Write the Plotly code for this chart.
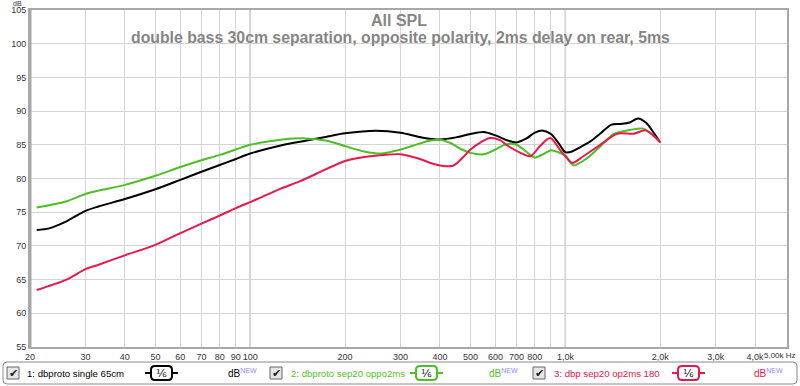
import plotly.graph_objects as go

# ---------------- data ----------------
series_names = ["1: dbproto single 65cm", "2: dbproto sep20 oppo2ms", "3: dbp sep20 op2ms 180"]
series_colors = ["#000000", "#4cbf27", "#e8194a"]
label_colors = ["#000000", "#55c030", "#e0184a"]

freq_black = [21, 23, 26, 30, 33, 40, 50, 60, 70, 80, 90, 100, 125, 150, 175, 200, 250, 300, 350, 400,
              450, 500, 550, 600, 650, 700, 750, 800, 850, 900, 950, 1000, 1050, 1100, 1200, 1300,
              1400, 1500, 1600, 1700, 1800, 1900, 2000]
spl_black = [72.35, 72.6, 73.6, 75.2, 75.85, 76.95, 78.4, 79.8, 81.0, 82.0, 82.9, 83.7, 84.9, 85.6, 86.2, 86.7,
             87.1, 86.8, 86.1, 85.8, 86.1, 86.6, 86.9, 86.4, 85.7, 85.35, 85.9, 86.8, 87.1, 86.6, 85.3,
             83.9, 84.0, 84.5, 85.5, 86.8, 88.0, 88.1, 88.3, 88.9, 88.3, 86.9, 85.35]

freq_green = [21, 26, 30, 33, 40, 50, 60, 70, 80, 90, 100, 125, 150, 175, 200, 230, 260, 300, 340, 370,
              400, 430, 470, 500, 550, 600, 650, 700, 750, 800, 850, 900, 950, 1000, 1060, 1100, 1170,
              1300, 1420, 1600, 1770, 1900, 2000]
spl_green = [75.7, 76.6, 77.7, 78.2, 79.05, 80.4, 81.7, 82.7, 83.5, 84.3, 85.0, 85.75, 85.95, 85.6, 84.8,
             84.0, 83.7, 84.3, 85.1, 85.6, 85.75, 85.3, 84.3, 83.8, 83.6, 84.3, 85.1, 85.0, 84.0, 83.1,
             83.6, 84.2, 83.9, 83.4, 81.95, 82.2, 83.0, 84.9, 86.6, 87.2, 87.4, 86.4, 85.35]

freq_red = [21, 26, 30, 33, 40, 50, 60, 70, 80, 90, 100, 107, 125, 144, 162, 200, 230, 264, 300, 340,
            390, 440, 470, 500, 540, 577, 620, 650, 720, 775, 830, 895, 960, 1000, 1050, 1140, 1290,
            1460, 1650, 1790, 1900, 2000]
spl_red = [63.45, 64.95, 66.55, 67.2, 68.6, 70.15, 71.9, 73.3, 74.5, 75.6, 76.5, 77.1, 78.5, 79.6, 80.7,
           82.6, 83.2, 83.5, 83.6, 83.0, 82.05, 81.9, 83.0, 84.3, 85.4, 86.0, 85.7, 85.0, 83.8, 83.3,
           84.8, 86.0, 84.3, 83.3, 82.3, 83.3, 85.0, 86.65, 86.65, 87.15, 86.4, 85.35]

x_tickvals = [20, 30, 40, 50, 60, 70, 80, 90, 100, 200, 300, 400, 500, 600, 700, 800, 900,
              1000, 2000, 3000, 4000]
x_ticktext = ["20", "30", "40", "50", "60", "70", "80", "90", "100", "200", "300", "400", "500",
              "600", "700", "800", "", "1,0k", "2,0k", "3,0k", "4,0k"]
y_tickvals = [55, 60, 65, 70, 75, 80, 85, 90, 95, 100, 105]

title_text = "All SPL"
subtitle_text = "double bass 30cm separation, opposite polarity, 2ms delay on rear, 5ms"

# ---------------- layout helpers ----------------
W, H = 800, 386
ML, MR, MT, MB = 30, 13, 10, 39
PW, PH = W - ML - MR, H - MT - MB


def px(x):
    return (x - ML) / PW


def py(y):
    return (H - MB - y) / PH


def rrect(x0, y0, x1, y1, r):
    X0, X1 = px(x0), px(x1)
    Y0, Y1 = py(y0), py(y1)
    rx, ry = r / PW, r / PH
    return (f"M{X0+rx},{Y0} L{X1-rx},{Y0} Q{X1},{Y0} {X1},{Y0-ry} "
            f"L{X1},{Y1+ry} Q{X1},{Y1} {X1-rx},{Y1} L{X0+rx},{Y1} Q{X0},{Y1} {X0},{Y1+ry} "
            f"L{X0},{Y0-ry} Q{X0},{Y0} {X0+rx},{Y0} Z")


fig = go.Figure()
for f, s, c, n in zip([freq_black, freq_green, freq_red], [spl_black, spl_green, spl_red],
                      series_colors, series_names):
    fig.add_trace(go.Scatter(x=f, y=s, mode="lines", name=n,
                             line=dict(color=c, width=2, shape="spline", smoothing=0.8)))

shapes = []
annotations = []

# darker decade lines
for v in [100, 1000]:
    shapes.append(dict(type="line", xref="x", yref="paper", x0=v, x1=v, y0=0, y1=1,
                       line=dict(color="#9a9a9a", width=1.3), layer="below"))
# thick left axis
shapes.append(dict(type="line", xref="paper", yref="paper", x0=0, x1=0, y0=0, y1=1,
                   line=dict(color="#a8a8a8", width=3)))

# titles
annotations.append(dict(text=title_text, xref="paper", yref="paper", x=px(399), y=py(20),
                        showarrow=False, font=dict(family="Liberation Sans", size=16, color="#858585",
                                                   weight="bold"),
                        xanchor="center", yanchor="middle"))
annotations.append(dict(text=subtitle_text, xref="paper", yref="paper", x=px(400), y=py(38),
                        showarrow=False, font=dict(family="Liberation Sans", size=15.8, color="#858585",
                                                   weight="bold"),
                        xanchor="center", yanchor="middle"))
# dB label & end tick label
annotations.append(dict(text="dB", xref="paper", yref="paper", x=px(17), y=py(3), showarrow=False,
                        font=dict(family="Liberation Sans", size=7, color="#333"),
                        xanchor="center", yanchor="middle"))
annotations.append(dict(text="5,00k Hz", xref="paper", yref="paper", x=px(798), y=py(355), showarrow=False,
                        font=dict(family="Liberation Sans", size=8, color="#333"),
                        xanchor="right", yanchor="middle"))

# legend box
shapes.append(dict(type="path", xref="paper", yref="paper", path=rrect(3, 362, 797, 384, 4),
                   line=dict(color="#8a8a8a", width=1), fillcolor="white"))

chk_x = [7, 270, 533]
txt_x = [25, 289, 552]
flt_x = [145, 410, 672]
db_x = [226, 487, 752]
ly = 373
for i in range(3):
    cx = chk_x[i]
    shapes.append(dict(type="rect", xref="paper", yref="paper", x0=px(cx), x1=px(cx + 12),
                       y0=py(ly - 6), y1=py(ly + 6), line=dict(color="#666", width=1),
                       fillcolor="#e6e6e6"))
    annotations.append(dict(text="✔", xref="paper", yref="paper", x=px(cx + 6.5), y=py(ly),
                            showarrow=False, font=dict(family="DejaVu Sans", size=11, color="#222"),
                            xanchor="center", yanchor="middle"))
    annotations.append(dict(text=series_names[i], xref="paper", yref="paper", x=px(txt_x[i]), y=py(ly),
                            showarrow=False, font=dict(family="Liberation Sans", size=9.6, color=label_colors[i]),
                            xanchor="left", yanchor="middle"))
    fx = flt_x[i]
    col = series_colors[i]
    shapes.append(dict(type="line", xref="paper", yref="paper", x0=px(fx), x1=px(fx + 6),
                       y0=py(ly), y1=py(ly), line=dict(color=col, width=2)))
    shapes.append(dict(type="line", xref="paper", yref="paper", x0=px(fx + 27), x1=px(fx + 33),
                       y0=py(ly), y1=py(ly), line=dict(color=col, width=2)))
    shapes.append(dict(type="path", xref="paper", yref="paper", path=rrect(fx + 6, ly - 7, fx + 27, ly + 7, 4),
                       line=dict(color=col, width=2), fillcolor="white"))
    annotations.append(dict(text="⅙", xref="paper", yref="paper", x=px(fx + 16.5), y=py(ly),
                            showarrow=False, font=dict(family="DejaVu Sans", size=11, color="#111"),
                            xanchor="center", yanchor="middle"))
    annotations.append(dict(text=f"dB<sup><span style='color:#8c8cff'>NEW</span></sup>",
                            xref="paper", yref="paper", x=px(db_x[i]), y=py(ly), showarrow=False,
                            font=dict(family="Liberation Sans", size=10, color=label_colors[i]),
                            xanchor="left", yanchor="middle"))

fig.update_layout(
    width=W, height=H,
    margin=dict(l=ML, r=MR, t=MT, b=MB),
    paper_bgcolor="white", plot_bgcolor="white",
    showlegend=False,
    shapes=shapes, annotations=annotations,
    xaxis=dict(type="log", range=[1.30103, 3.7033], tickvals=x_tickvals, ticktext=x_ticktext,
               tickangle=0, automargin=False,
               showgrid=True, gridcolor="#d4d4d4", gridwidth=1, zeroline=False,
               showline=True, mirror=True, linecolor="#a8a8a8", linewidth=2,
               ticks="", tickfont=dict(family="Liberation Sans", size=9, color="#333")),
    yaxis=dict(range=[55, 105], tickvals=y_tickvals, automargin=False,
               showgrid=True, gridcolor="#d4d4d4", gridwidth=1, zeroline=False,
               showline=True, mirror=True, linecolor="#a8a8a8", linewidth=2,
               ticks="", tickfont=dict(family="Liberation Sans", size=9, color="#333")),
)

fig.write_html("out.html", config={"displayModeBar": False},
               post_script="document.body.style.margin='0';document.body.style.padding='0';"
                           "document.body.style.overflow='hidden';")
